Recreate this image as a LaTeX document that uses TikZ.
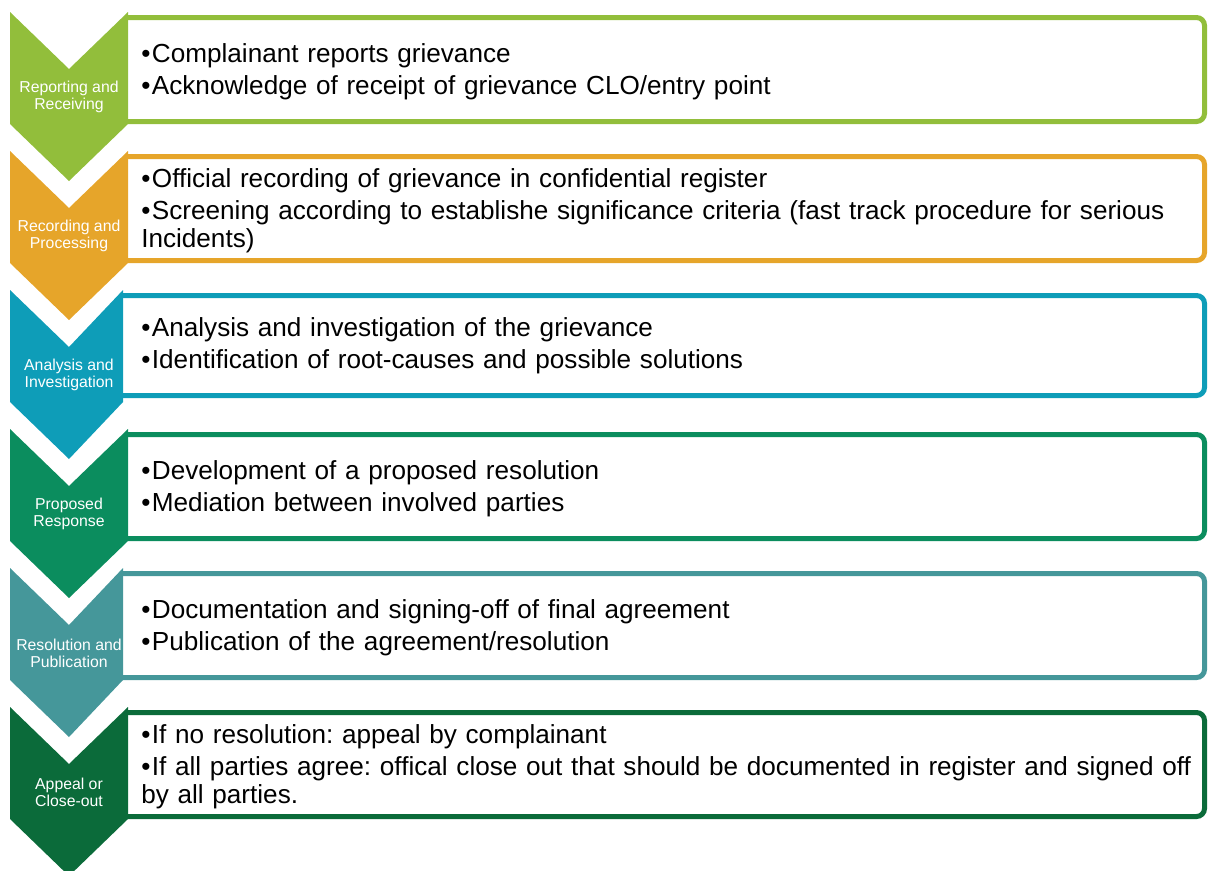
\documentclass[tikz,border=0pt]{standalone}
\usepackage{fontspec}
\setmainfont{Liberation Sans}
\usepackage{tikz}
\frenchspacing

\definecolor{stageA}{HTML}{92BE3B}
\definecolor{stageB}{HTML}{E6A52A}
\definecolor{stageC}{HTML}{0E9DB8}
\definecolor{stageD}{HTML}{0B8D5E}
\definecolor{stageE}{HTML}{45979A}
\definecolor{stageF}{HTML}{0B6B3A}

\newcommand{\bitem}[1]{\hangindent=8pt\hangafter=1\noindent\makebox[8pt][l]{\textbullet}#1\par}

\begin{document}
\begin{tikzpicture}[x=0.75pt,y=-0.75pt,
    stagebox/.style={line width=3.75pt,rounded corners=6pt},
    stagelabel/.style={text=white,align=center,inner sep=0pt,
      font=\fontsize{11.85}{12.75}\selectfont},
    stagetext/.style={anchor=west,inner sep=0pt,text width=808pt,align=left,
      font=\fontsize{19.6}{21}\selectfont}]
    \useasboundingbox (0,0) rectangle (1208,871);
    \clip (0,0) rectangle (1208,871);

    \draw[stagebox,stageA] (126,17.5) -- (1204.5,17.5) -- (1204.5,121.5) -- (126,121.5);
    \fill[stageA] (10,12) -- (69,69) -- (128,12) -- (128,124) -- (69,181) -- (10,124) -- cycle;
    \node[stagelabel] (lab1) at (69,97) {Reporting and\\Receiving};
    \node[stagetext] (txt1) at (141,71.5) {\bitem{Complainant reports grievance}\vspace{3pt}\bitem{Acknowledge of receipt of grievance CLO/entry point}};

    \draw[stagebox,stageB] (126,156.5) -- (1204.5,156.5) -- (1204.5,260.5) -- (126,260.5);
    \fill[stageB] (10,151) -- (69,208) -- (128,151) -- (128,263) -- (69,320) -- (10,263) -- cycle;
    \node[stagelabel] (lab2) at (69,236) {Recording and\\Processing};
    \node[stagetext] (txt2) at (141,210.5) {\bitem{Official recording of grievance in confidential register}\vspace{3pt}\bitem{Screening according to establishe significance criteria (fast track procedure for serious\\Incidents)}};

    \draw[stagebox,stageC] (121,295.5) -- (1204.5,295.5) -- (1204.5,395.5) -- (121,395.5);
    \fill[stageC] (10,290) -- (69,347) -- (123,290) -- (123,402) -- (69,459) -- (10,402) -- cycle;
    \node[stagelabel] (lab3) at (69,375) {Analysis and\\Investigation};
    \node[stagetext] (txt3) at (141,345.5) {\bitem{Analysis and investigation of the grievance}\vspace{3pt}\bitem{Identification of root-causes and possible solutions}};

    \draw[stagebox,stageD] (126,434.5) -- (1204.5,434.5) -- (1204.5,538.5) -- (126,538.5);
    \fill[stageD] (10,429) -- (69,486) -- (128,429) -- (128,541) -- (69,598) -- (10,541) -- cycle;
    \node[stagelabel] (lab4) at (69,514) {Proposed\\Response};
    \node[stagetext] (txt4) at (141,488.5) {\bitem{Development of a proposed resolution}\vspace{3pt}\bitem{Mediation between involved parties}};

    \draw[stagebox,stageE] (121,573.5) -- (1204.5,573.5) -- (1204.5,677.5) -- (121,677.5);
    \fill[stageE] (10,568) -- (69,625) -- (123,568) -- (123,680) -- (69,737) -- (10,680) -- cycle;
    \node[stagelabel] (lab5) at (69,653) {Resolution and\\Publication};
    \node[stagetext] (txt5) at (141,627.5) {\bitem{Documentation and signing-off of final agreement}\vspace{3pt}\bitem{Publication of the agreement/resolution}};

    \draw[stagebox,stageF] (126,712.5) -- (1204.5,712.5) -- (1204.5,816.5) -- (126,816.5);
    \fill[stageF] (10,707) -- (69,764) -- (128,707) -- (128,819) -- (69,876) -- (10,819) -- cycle;
    \node[stagelabel] (lab6) at (69,792) {Appeal or\\Close-out};
    \node[stagetext] (txt6) at (141,766.5) {\bitem{If no resolution: appeal by complainant}\vspace{3pt}\bitem{If all parties agree: offical close out that should be documented in register and signed off\\by all parties.}};
\end{tikzpicture}
\end{document}
